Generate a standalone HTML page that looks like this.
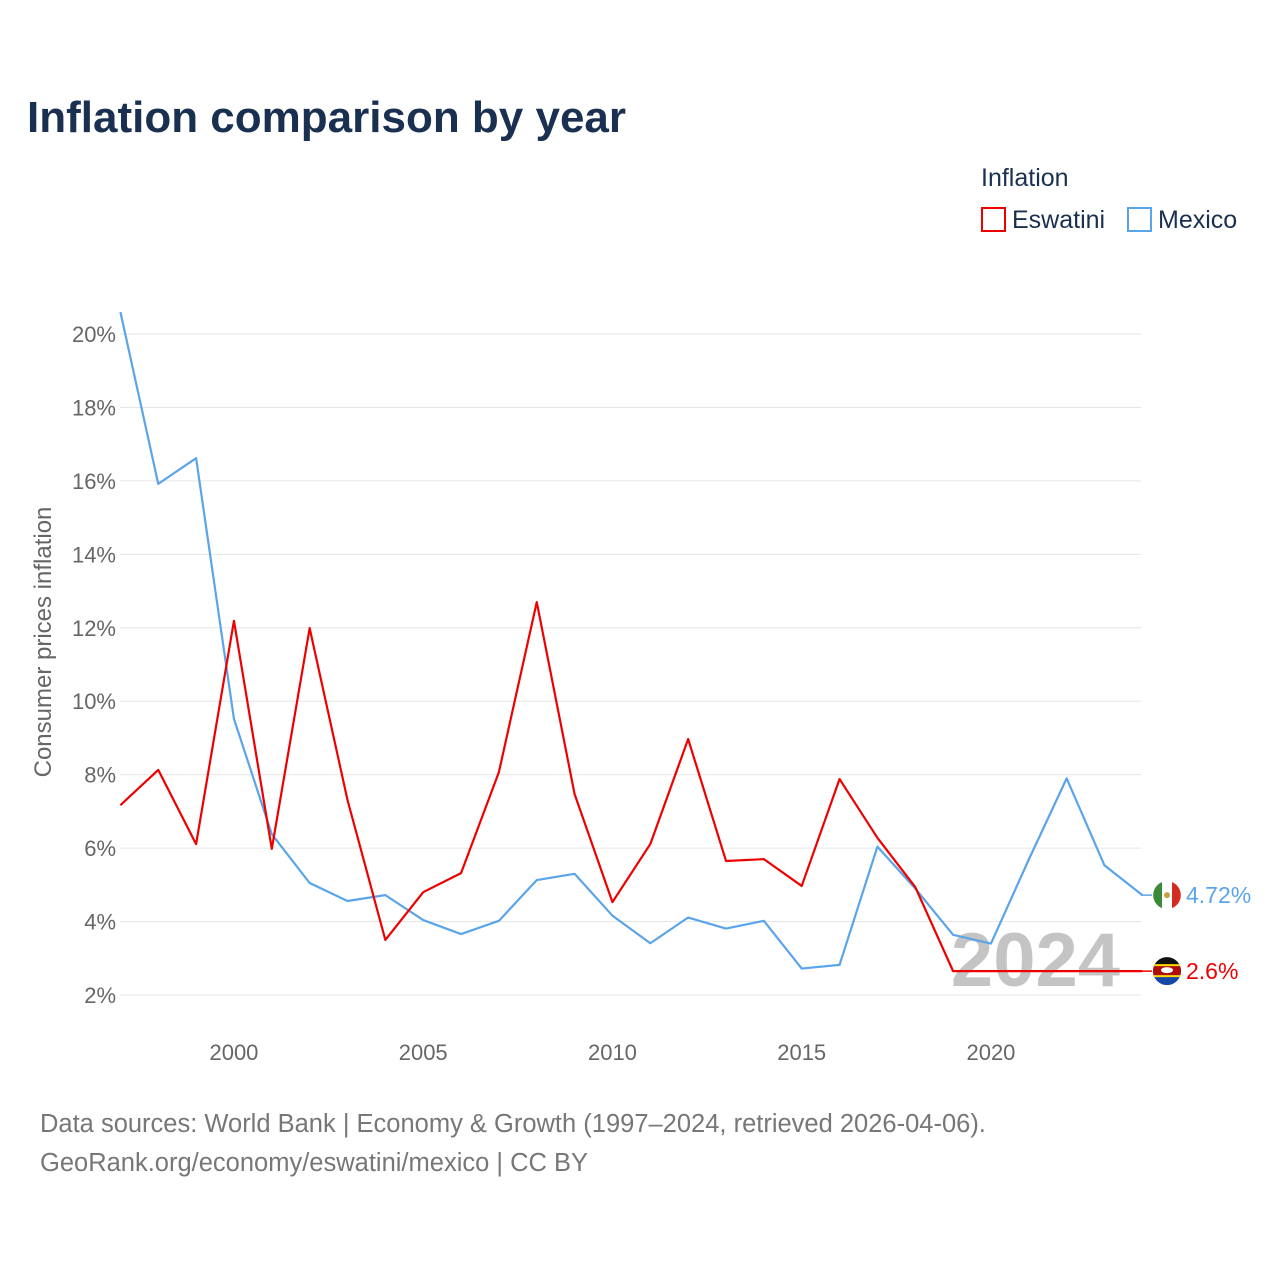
<!DOCTYPE html>
<html><head><meta charset="utf-8"><style>
body{margin:0;background:#fff;font-family:"Liberation Sans",sans-serif;}
</style></head><body>
<svg id="chart" width="1280" height="1280" viewBox="0 0 1280 1280" xmlns="http://www.w3.org/2000/svg">
<defs><clipPath id="fc"><circle cx="1167" cy="971" r="14"/></clipPath></defs>
<text x="27" y="132" font-size="44" font-weight="bold" fill="#1a3050">Inflation comparison by year</text>
<text x="981" y="186" font-size="25" fill="#1a3050">Inflation</text>
<g><rect x="982" y="208" width="23" height="23" fill="none" stroke="#ee0000" stroke-width="2"/><text x="1012" y="228" font-size="25" fill="#1a3050">Eswatini</text></g>
<g><rect x="1128" y="208" width="23" height="23" fill="none" stroke="#5aa5ea" stroke-width="2"/><text x="1158" y="228" font-size="25" fill="#1a3050">Mexico</text></g>
<g id="grid"></g><g id="yticks"></g><g id="xticks"></g>
<text transform="translate(51,642) rotate(-90)" text-anchor="middle" font-size="24" fill="#666">Consumer prices inflation</text>
<text x="1120" y="986" text-anchor="end" font-size="76" font-weight="bold" fill="#c4c4c4">2024</text>
<g id="series"></g>
<text x="40" y="1132" font-size="25.5" fill="#777">Data sources: World Bank | Economy &amp; Growth (1997–2024, retrieved 2026-04-06).</text>
<text x="40" y="1171" font-size="25.5" fill="#777">GeoRank.org/economy/eswatini/mexico | CC BY</text>
</svg>
<script>
const years=[1997,1998,1999,2000,2001,2002,2003,2004,2005,2006,2007,2008,2009,2010,2011,2012,2013,2014,2015,2016,2017,2018,2019,2020,2021,2022,2023,2024];
const eswatini=[7.17,8.13,6.11,12.19,5.98,11.99,7.31,3.5,4.8,5.32,8.07,12.7,7.47,4.53,6.11,8.97,5.65,5.7,4.97,7.88,6.28,4.94,2.65,2.65,2.65,2.65,2.65,2.65];
const mexico=[20.6,15.92,16.62,9.52,6.38,5.05,4.56,4.72,4.04,3.66,4.02,5.13,5.3,4.16,3.41,4.11,3.81,4.02,2.72,2.82,6.04,4.9,3.64,3.4,5.69,7.9,5.53,4.72];
const yTicks=[2,4,6,8,10,12,14,16,18,20];
const xTicks=[2000,2005,2010,2015,2020];
const NS="http://www.w3.org/2000/svg";
const X=y=>120.4+(y-1997)*37.85, Y=v=>995-(v-2)*36.72;
function mk(t,a,p){const e=document.createElementNS(NS,t);for(const k in a)e.setAttribute(k,a[k]);document.getElementById(p).appendChild(e);return e;}
yTicks.forEach(v=>{
 const l=mk('line',{x1:120,x2:1141,y1:Y(v),y2:Y(v),stroke:'#e6e6e6','stroke-width':1},'grid');
 
 
 const t=mk('text',{x:116,y:Y(v)+8,'text-anchor':'end','font-size':22,fill:'#666'},'yticks');t.textContent=v+'%';
 
 
});
xTicks.forEach(v=>{
 const t=mk('text',{x:X(v),y:1060,'text-anchor':'middle','font-size':22,fill:'#666'},'xticks');t.textContent=v;
 
 
});
function line(d,c,name){
 const p=mk('polyline',{points:d.map((v,i)=>X(years[i])+','+Y(v)).join(' '),fill:'none',stroke:c,'stroke-width':2.2,'stroke-linejoin':'round'},'series');
 
 
}
line(mexico,'#5aa5ea','mexico-line');
line(eswatini,'#ee0000','eswatini-line');
const lm=mexico[mexico.length-1], le=eswatini[eswatini.length-1];
mk('line',{x1:1141,x2:1152,y1:Y(lm),y2:Y(lm),stroke:'#5aa5ea','stroke-width':1.5},'series');
mk('line',{x1:1141,x2:1152,y1:Y(le),y2:Y(le),stroke:'#ee0000','stroke-width':1.5},'series');
const f1=mk('g',{},'series');


f1.innerHTML=`<circle cx="1167" cy="${Y(lm)}" r="14" fill="#fff"/><path d="M1162 ${Y(lm)-13}A14 14 0 0 0 1162 ${Y(lm)+13}Z" fill="#3a8a3a"/><path d="M1172 ${Y(lm)-13}A14 14 0 0 1 1172 ${Y(lm)+13}Z" fill="#d52b1e"/><circle cx="1167" cy="${Y(lm)}" r="3" fill="#c8a040"/>`;
const e=Y(le);
document.querySelector('#fc circle').setAttribute('cy',e);
const f2=mk('g',{'clip-path':'url(#fc)'},'series');


f2.innerHTML=`<rect x="1153" y="${e-14}" width="28" height="28" fill="#1747a6"/><rect x="1153" y="${e-14}" width="28" height="8" fill="#111"/><rect x="1153" y="${e-6}" width="28" height="10" fill="#b10c0c"/><rect x="1153" y="${e-7}" width="28" height="2" fill="#ffd900"/><rect x="1153" y="${e+4}" width="28" height="2" fill="#ffd900"/><ellipse cx="1167" cy="${e-1}" rx="6" ry="3" fill="#fff"/>`;
const t1=mk('text',{x:1186,y:Y(lm)+8,'font-size':23,fill:'#5aa5ea'},'series');t1.textContent=lm+'%';


const t2=mk('text',{x:1186,y:e+8,'font-size':23,fill:'#ee0000'},'series');t2.textContent='2.6%';


</script>
</body></html>
